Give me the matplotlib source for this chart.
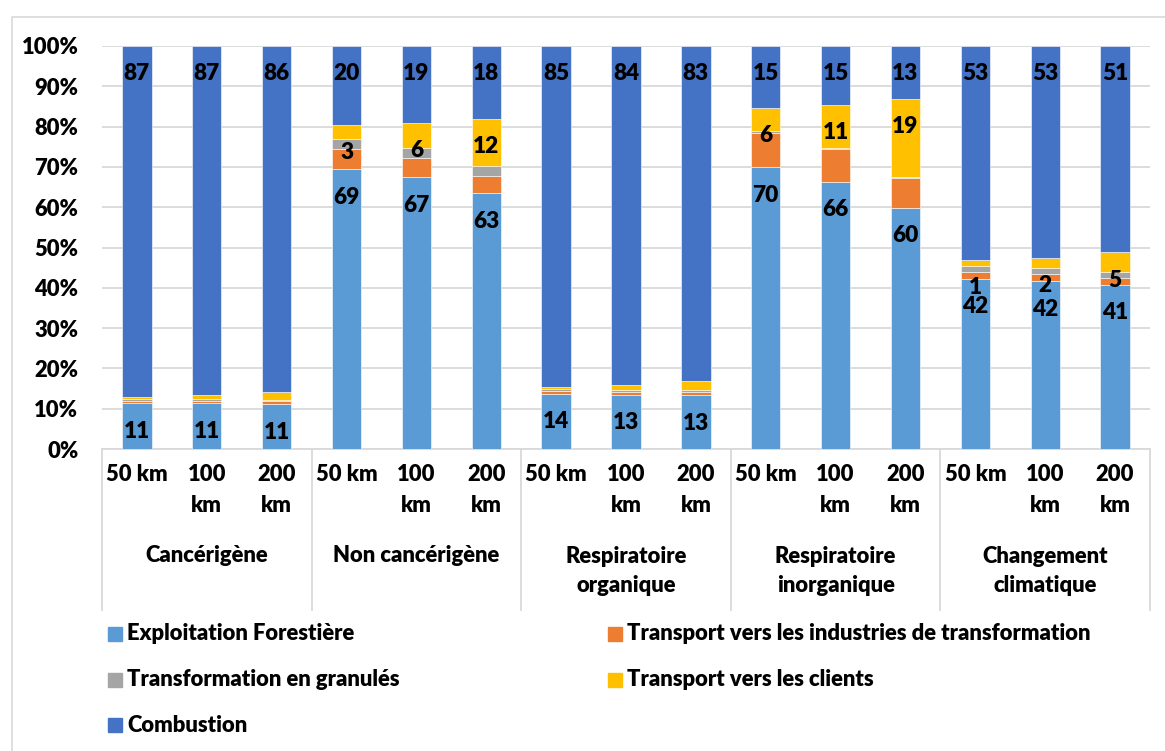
import matplotlib
matplotlib.use("Agg")
import matplotlib.pyplot as plt
from matplotlib.patches import Rectangle
from matplotlib.lines import Line2D
import numpy as np

plt.rcParams['font.family'] = ['Lato', 'DejaVu Sans']
plt.rcParams['font.weight'] = 'heavy'

# ----------------- Data -----------------
groups = ["Cancérigène", "Non cancérigène", "Respiratoire\norganique",
          "Respiratoire\ninorganique", "Changement\nclimatique"]
distances = ["50 km", "100\nkm", "200\nkm"]

exploitation = [11.3, 11.3, 11.1, 69.4, 67.4, 63.4, 13.6, 13.4, 13.3, 69.9, 66.2, 59.9, 42.2, 41.6, 40.7]
transport_ind = [0.7, 0.7, 0.8, 5.0, 4.7, 4.4, 0.8, 0.8, 0.9, 8.6, 8.2, 7.3, 1.7, 1.9, 1.8]
granules = [0.3, 0.3, 0.3, 2.6, 2.7, 2.5, 0.5, 0.5, 0.5, 0.5, 0.4, 0.4, 1.6, 1.5, 1.5]
transport_clients = [0.5, 1.0, 1.9, 3.4, 6.2, 11.7, 0.5, 1.2, 2.1, 5.7, 10.6, 19.2, 1.4, 2.4, 4.8]
combustion = [87.2, 86.7, 85.9, 19.6, 19.0, 18.0, 84.6, 84.1, 83.2, 15.3, 14.6, 13.2, 53.1, 52.6, 51.2]

# which yellow segments carry a data label
clients_labelled = [False] * 3 + [True] * 3 + [False] * 3 + [True] * 6

series_names = ["Exploitation Forestière", "Transport vers les industries de transformation",
                "Transformation en granulés", "Transport vers les clients", "Combustion"]
colors = ["#5B9BD5", "#ED7D31", "#A5A5A5", "#FFC000", "#4472C4"]

FS = 15.8
WT = "heavy"

# ----------------- Figure -----------------
W, H = 1165, 751
fig = plt.figure(figsize=(W / 100, H / 100), dpi=100)
ax = fig.add_axes([102 / W, 1 - 449 / H, (1150 - 102) / W, (449 - 46) / H])

# outer chart border
fig.add_artist(Rectangle((12 / W, -0.2), 2, 1.2 - 17 / H, transform=fig.transFigure,
                         fill=False, edgecolor="#D9D9D9", linewidth=1.2))

data = np.array([exploitation, transport_ind, granules, transport_clients, combustion])
data = data / data.sum(axis=0) * 100
x = np.arange(data.shape[1])

bottom = np.zeros(len(x))
tops = []
for vals, name, col in zip(data, series_names, colors):
    ax.bar(x, vals, width=0.42, bottom=bottom, color=col, label=name,
           edgecolor="white", linewidth=0.4, zorder=3)
    bottom = bottom + vals
    tops.append(bottom.copy())

# data labels (inside end of segment)
label_style = dict(textcoords="offset points", xytext=(0, -20), ha="center", va="center",
                   fontsize=FS + 0.5, fontweight=WT, color="black", zorder=5)
for i in x:
    ax.annotate(f"{exploitation[i]:.0f}", (i, tops[0][i]), **label_style)
    ax.annotate(f"{combustion[i]:.0f}", (i, tops[4][i]), **label_style)
    if clients_labelled[i]:
        ax.annotate(f"{transport_clients[i]:.0f}", (i, tops[3][i]), **label_style)

# axes styling
ax.set_xlim(-0.5, len(x) - 0.5)
ax.set_ylim(0, 100)
ax.set_yticks(np.arange(0, 101, 10))
ax.set_yticklabels([f"{v}%" for v in range(0, 101, 10)], fontsize=FS, fontweight=WT)
ax.tick_params(axis="y", length=0, pad=17)
ax.grid(axis="y", color="#D9D9D9", linewidth=1.3, zorder=0)
for s in ["top", "right", "left"]:
    ax.spines[s].set_visible(False)
ax.spines["bottom"].set_color("#D9D9D9")
ax.spines["bottom"].set_linewidth(1.3)

ax.set_xticks(x)
ax.set_xticklabels(distances * len(groups), fontsize=FS, fontweight=WT, linespacing=1.6, va="top")
ax.tick_params(axis="x", length=0, pad=11)

# group labels and separators
trans = ax.get_xaxis_transform()
ax_h = 449 - 46
for g, name in enumerate(groups):
    two_lines = "\n" in name
    y_px = 571 if two_lines else 556
    ax.text(g * 3 + 1, -(y_px - 449) / ax_h, name, transform=trans, ha="center", va="center",
            fontsize=FS, fontweight=WT, linespacing=1.5, clip_on=False)
for g in range(len(groups) + 1):
    ax.add_line(Line2D([g * 3 - 0.5, g * 3 - 0.5], [0, -(610 - 449) / ax_h], transform=trans,
                       color="#D9D9D9", linewidth=1.3, clip_on=False))

# legend, drawn by hand to match the two column layout
legend_pos = [(108, 634), (608, 634), (108, 680), (608, 680), (108, 725)]
for (lx, ly), name, col in zip(legend_pos, series_names, colors):
    fig.add_artist(Rectangle((lx / W, 1 - (ly + 7) / H), 14 / W, 14 / H,
                             transform=fig.transFigure, color=col))
    fig.text((lx + 19) / W, 1 - ly / H, name, ha="left", va="center",
             fontsize=FS, fontweight=WT)

fig.savefig("out.png", dpi=100)
